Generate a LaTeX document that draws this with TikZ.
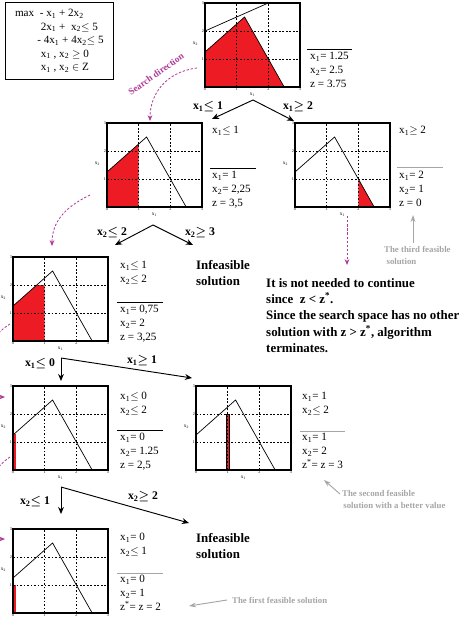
\documentclass[tikz,border=0pt]{standalone}
\usepackage{fontspec}
\setmainfont{Liberation Serif}
\usetikzlibrary{arrows.meta}
\definecolor{bbred}{RGB}{237,28,36}
\definecolor{bbmagenta}{RGB}{176,58,150}
\definecolor{bbgray}{RGB}{165,165,165}

% one subproblem plot: name, lower left corner, red region, extras
\newcommand\bbplot[4]{%
  \begin{scope}[shift={#2},x=0.95cm,y=0.84cm]
    \fill[bbred] #3;
    \draw[gridline] (1,0) -- (1,3) (2,0) -- (2,3) (0,1) -- (3,1) (0,2) -- (3,2);
    \draw[lpline] (0,1.25) -- (1.25,2.5) -- (2.5,0);
    #4
    \node[plotframe] (#1) at (1.5,1.5) {};
    \foreach \t in {0,...,3} \node[tick,below] at (\t,0) {\t};
    \foreach \t in {1,2,3} \node[tick,left] at (0,\t) {\t};
    \node[axlabel] at (1.5,-0.28) {x\textsubscript{1}};
    \node[axlabel] at (-0.3,1.55) {x\textsubscript{2}};
  \end{scope}}

\begin{document}
\begin{tikzpicture}[x=0.03cm,y=-0.03cm,
  gridline/.style={dash pattern=on 1.5pt off 1.5pt,line width=0.4pt},
  lpline/.style={line width=0.6pt},
  plotframe/.style={draw,line width=0.9pt,minimum width=2.85cm,minimum height=2.52cm,inner sep=0},
  tick/.style={font=\fontsize{3.5}{4}\selectfont,inner sep=0.8pt},
  axlabel/.style={font=\fontsize{4.5}{5}\selectfont,inner sep=0},
  lpbox/.style={draw,line width=0.6pt,anchor=north west,align=left,
    font=\fontsize{9.5}{11.6}\selectfont,minimum width=3.24cm,minimum height=2.31cm},
  res/.style={font=\fontsize{9.5}{12}\selectfont,align=left,anchor=north west,inner sep=0},
  rule/.style={line width=0.6pt},
  cut/.style={font=\bfseries\boldmath\fontsize{10}{12}\selectfont,inner sep=0},
  branch/.style={-{Stealth[length=6pt,width=5pt]},line width=0.8pt},
  verdict/.style={font=\bfseries\fontsize{11}{14}\selectfont,align=left,anchor=west,inner sep=0},
  note/.style={font=\bfseries\fontsize{7.5}{9.5}\selectfont,text=bbgray,align=left,anchor=west,inner sep=0},
  hint/.style={-{Stealth[length=6pt,width=4pt]},bbgray,line width=0.8pt},
  search/.style={-{Stealth[length=5pt,width=4pt]},bbmagenta,dash pattern=on 2pt off 1.5pt,line width=0.7pt}
]
  \useasboundingbox (0,0) rectangle (466,617);
  \clip (0,0) rectangle (466,617);

  % model
  \node[lpbox] (model) at (5,2) {max\ \ - x\textsubscript{1} + 2x\textsubscript{2}\\
    \hspace*{22pt}2x\textsubscript{1} +\ \ x\textsubscript{2}$\leq$ 5\\
    \hspace*{19pt}- 4x\textsubscript{1} + 4x\textsubscript{2}$\leq$ 5\\
    \hspace*{22pt}x\textsubscript{1} , x\textsubscript{2} $\geq$ 0\\
    \hspace*{22pt}x\textsubscript{1} , x\textsubscript{2} $\in$ Z};

  % root relaxation
  \bbplot{root}{(205,87)}{(0,0) -- (0,1.25) -- (1.25,2.5) -- (2.5,0) -- cycle}{%
    \draw[lpline] (0,2) -- (2,3);
    \foreach \a/\b in {0/1,1/0,1/1,1/2,2/0,2/1} \fill (\a,\b) circle (0.7pt);}
  \draw[rule] (307,49) -- (352,49);
  \node[res] (rootres) at (310,52) {x\textsubscript{1}= 1.25\\x\textsubscript{2}= 2.5\\z = 3.75};

  \coordinate (rootsplit) at (253,100);
  \coordinate (lonetip) at (212,119);
  \coordinate (ronetip) at (294,121);
  \draw[branch] (rootsplit) -- (lonetip);
  \draw[branch] (rootsplit) -- (ronetip);
  \node[cut] (lonecut) at (208,107) {x\textsubscript{1}$\leq$ 1};
  \node[cut] (ronecut) at (298,107) {x\textsubscript{1}$\geq$ 2};

  % x1 <= 1
  \bbplot{lone}{(107,207)}{(0,0) -- (0,1.25) -- (1,2.25) -- (1,0) -- cycle}{}
  \node[res] (lonecon) at (212,126) {x\textsubscript{1}$\leq$ 1};
  \draw[rule] (210,168) -- (256,168);
  \node[res] (loneres) at (212,171) {x\textsubscript{1}= 1\\x\textsubscript{2}= 2,25\\z = 3,5};

  % x1 >= 2
  \bbplot{rone}{(295,207)}{(2,0) -- (2,1) -- (2.5,0) -- cycle}{}
  \node[res] (ronecon) at (399,126) {x\textsubscript{1}$\geq$ 2};
  \draw[rule,bbgray] (397,167) -- (443,167);
  \node[res] (roneres) at (399,171) {x\textsubscript{1}= 2\\x\textsubscript{2}= 1\\z = 0};
  \node[note] (third) at (384,255.5) {The third feasible\\\hspace*{2pt}solution};
  \coordinate (thirdtail) at (413,243);
  \coordinate (thirdtip) at (413,215);
  \draw[hint] (thirdtail) -- (thirdtip);

  \coordinate (lonesplit) at (153,225);
  \coordinate (ltwotip) at (115,245);
  \coordinate (rtwotip) at (193,245);
  \draw[branch] (lonesplit) -- (ltwotip);
  \draw[branch] (lonesplit) -- (rtwotip);
  \node[cut] (ltwocut) at (112,233) {x\textsubscript{2}$\leq$ 2};
  \node[cut] (rtwocut) at (200,233) {x\textsubscript{2}$\geq$ 3};

  % x1 <= 1, x2 <= 2
  \bbplot{ltwo}{(13,341)}{(0,0) -- (0,1.25) -- (0.75,2) -- (1,2) -- (1,0) -- cycle}{}
  \node[res] (ltwocon) at (120,261) {x\textsubscript{1}$\leq$ 1\\x\textsubscript{2}$\leq$ 2};
  \draw[rule] (117,302) -- (163,302);
  \node[res] (ltwores) at (120,305) {x\textsubscript{1}= 0,75\\x\textsubscript{2}= 2\\z = 3,25};
  \node[verdict] (rtwo) at (196,273) {Infeasible\\solution};

  \node[verdict] (stop) at (266,315.5) {It is not needed to continue\\
    since\ \ z < z\textsuperscript{*}.\\
    Since the search space has no other\\
    solution with z > z\textsuperscript{*}, algorithm\\
    terminates.};

  \coordinate (ltwosplit) at (61,358);
  \coordinate (lthreetip) at (61,381);
  \coordinate (rthreetip) at (192,378);
  \draw[branch] (ltwosplit) -- (lthreetip);
  \draw[branch] (ltwosplit) -- (rthreetip);
  \node[cut] (lthreecut) at (40,364) {x\textsubscript{1}$\leq$ 0};
  \node[cut] (rthreecut) at (142,361) {x\textsubscript{1}$\geq$ 1};

  % x1 <= 0, x2 <= 2
  \bbplot{lthree}{(13,470)}{(0,0) rectangle (0.1,1.28)}{}
  \node[res] (lthreecon) at (120,392) {x\textsubscript{1}$\leq$ 0\\x\textsubscript{2}$\leq$ 2};
  \draw[rule] (117,430) -- (163,430);
  \node[res] (lthreeres) at (120,433) {x\textsubscript{1}= 0\\x\textsubscript{2}= 1.25\\z = 2,5};

  % x1 = 1, x2 <= 2
  \bbplot{rthree}{(196,470)}{(0.95,0) rectangle (1.05,2)}{%
    \draw[line width=0.3pt] (0.95,0) rectangle (1.05,2);}
  \node[res] (rthreecon) at (302,392) {x\textsubscript{1}= 1\\x\textsubscript{2}$\leq$ 2};
  \draw[rule,bbgray] (300,431) -- (345,431);
  \node[res] (rthreeres) at (302,433) {x\textsubscript{1}= 1\\x\textsubscript{2}= 2\\z\textsuperscript{*}= z = 3};
  \node[note] (second) at (342,499.5) {The second feasible\\\hspace*{1pt}solution with a better value};
  \coordinate (secondtail) at (340,494);
  \coordinate (secondtip) at (324,480);
  \draw[hint] (secondtail) -- (secondtip);

  \coordinate (lthreesplit) at (61,487);
  \coordinate (lfourtip) at (61,514);
  \coordinate (rfourtip) at (189,523);
  \draw[branch] (lthreesplit) -- (lfourtip);
  \draw[branch] (lthreesplit) -- (rfourtip);
  \node[cut] (lfourcut) at (35,502) {x\textsubscript{2}$\leq$ 1};
  \node[cut] (rfourcut) at (143,497) {x\textsubscript{2}$\geq$ 2};

  % x1 = 0, x2 <= 1
  \bbplot{lfour}{(13,613)}{(0,0) rectangle (0.1,1)}{}
  \node[res] (lfourcon) at (120,533) {x\textsubscript{1}= 0\\x\textsubscript{2}$\leq$ 1};
  \draw[rule,bbgray] (117,573) -- (163,573);
  \node[res] (lfourres) at (120,575) {x\textsubscript{1}= 0\\x\textsubscript{2}= 1\\z\textsuperscript{*}= z = 2};
  \node[verdict] (rfour) at (196,546) {Infeasible\\solution};
  \node[note] (first) at (232,600) {The first feasible solution};
  \coordinate (firsttail) at (227,600);
  \coordinate (firsttip) at (189,606);
  \draw[hint] (firsttail) -- (firsttip);

  % search direction
  \coordinate (searchstart) at (197,68);
  \coordinate (searchend) at (150,121);
  \draw[search] (searchstart) .. controls (165,72) and (150,95) .. (searchend);
  \node[bbmagenta,font=\bfseries\fontsize{8}{9}\selectfont,rotate=35,inner sep=0] (searchlbl) at (156,74) {Search direction};
  \draw[search] (90,195) .. controls (65,207) and (52,222) .. (52,246);
  \draw[search] (347,216) -- (347,265);
  \draw[search] (10,324) .. controls (-25,345) and (-25,397) .. (5,397);
  \draw[search] (10,457) .. controls (-25,480) and (-25,539) .. (5,539);
\end{tikzpicture}
\end{document}
